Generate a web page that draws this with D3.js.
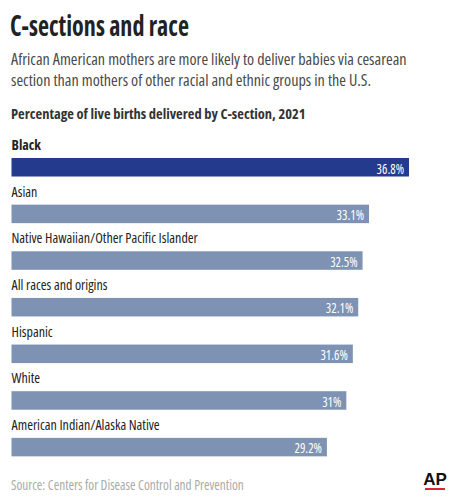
<!DOCTYPE html>
<html>
<head>
<meta charset="utf-8">
<script src="https://cdn.jsdelivr.net/npm/d3@7"></script>
<style>
  body { margin: 0; background: #fff; }
  svg { display: block; font-family: "Open Sans", sans-serif; font-stretch: condensed; }
</style>
</head>
<body>
<svg id="chart"></svg>
<script>
const width = 456;
const height = 500;

const categories = [
    "Black",
    "Asian",
    "Native Hawaiian/Other Pacific Islander",
    "All races and origins",
    "Hispanic",
    "White",
    "American Indian/Alaska Native"
];
const values = [36.8, 33.1, 32.5, 32.1, 31.6, 31, 29.2];
const valueLabels = ["36.8%", "33.1%", "32.5%", "32.1%", "31.6%", "31%", "29.2%"];

const svg = d3.select("#chart")
    .attr("width", width)
    .attr("height", height);

// squeeze text horizontally, the AP font is narrower than anything installed
function squeeze(sel, k) {
    sel.each(function () {
        const w = this.getComputedTextLength();
        d3.select(this)
            .attr("textLength", w * k)
            .attr("lengthAdjust", "spacingAndGlyphs");
    });
}

// Title block (scaled with a transform so its width matches)
const titleG = svg.append("g");
const title = titleG.append("text")
    .attr("x", 0).attr("y", 0)
    .attr("font-size", 29).attr("font-weight", "bold")
    .attr("fill", "#222")
    .text("C-sections and race");
const tw = title.node().getBBox().width;
titleG.attr("transform", `translate(10, 36) scale(${179 / tw}, 1)`);

const sub = ["African American mothers are more likely to deliver babies via cesarean",
             "section than mothers of other racial and ethnic groups in the U.S."];
svg.selectAll(".sub")
    .data(sub)
    .enter()
    .append("text")
    .attr("class", "sub")
    .attr("x", 11)
    .attr("y", (d, i) => 65 + i * 21)
    .attr("font-size", 17)
    .attr("fill", "#4a4a4a")
    .text(d => d)
    .call(squeeze, 0.95);

svg.append("text")
    .attr("x", 11).attr("y", 119)
    .attr("font-size", 15).attr("font-weight", "bold")
    .attr("fill", "#333")
    .text("Percentage of live births delivered by C-section, 2021")
    .call(squeeze, 0.965);

// Bars
const x = d3.scaleLinear()
    .domain([0, 36.8])
    .range([0, 397.5]);

const y = d3.scaleBand()
    .domain(categories)
    .range([131, 457.5])
    .paddingInner(0);

const left = 11.5;
const barTop = 27;
const barH = 18.5;

const rows = svg.selectAll(".row")
    .data(categories)
    .enter()
    .append("g")
    .attr("class", "row")
    .attr("transform", d => `translate(${left}, ${y(d)})`);

rows.append("text")
    .attr("x", 0)
    .attr("y", 19)
    .attr("font-size", 14)
    .attr("font-weight", (d, i) => i === 0 ? "bold" : "normal")
    .attr("fill", "#222")
    .text(d => d);

rows.append("rect")
    .attr("x", 0)
    .attr("y", barTop)
    .attr("width", (d, i) => x(values[i]))
    .attr("height", barH)
    .attr("fill", (d, i) => i === 0 ? "#243a8c" : "#7e93b3");

rows.append("text")
    .attr("x", (d, i) => x(values[i]) - 5)
    .attr("y", barTop + 15.5)
    .attr("text-anchor", "end")
    .attr("font-size", 15)
    .attr("fill", "#fff")
    .text((d, i) => valueLabels[i])
    .call(squeeze, 0.85);

// Source
svg.append("text")
    .attr("x", 11).attr("y", 490)
    .attr("font-size", 14)
    .attr("fill", "#aaa")
    .text("Source: Centers for Disease Control and Prevention")
    .call(squeeze, 0.95);

// AP logo
svg.append("text")
    .attr("x", 435).attr("y", 485)
    .attr("text-anchor", "middle")
    .style("font-family", "Liberation Sans, Arial, sans-serif")
    .style("font-stretch", "normal")
    .attr("font-size", 17).attr("font-weight", "bold")
    .attr("fill", "#111")
    .text("AP");
svg.append("rect")
    .attr("x", 425).attr("y", 488)
    .attr("width", 20).attr("height", 2)
    .attr("fill", "#d7263d");
</script>
</body>
</html>
